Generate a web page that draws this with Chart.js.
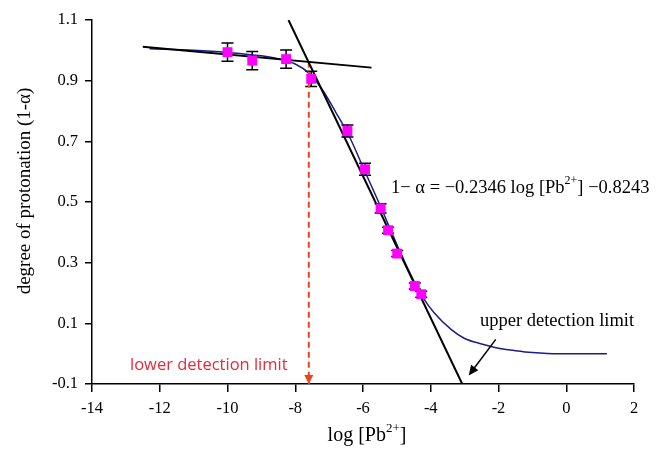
<!DOCTYPE html>
<html>
<head>
<meta charset="utf-8">
<script src="https://cdn.jsdelivr.net/npm/chart.js@4.4.0/dist/chart.umd.min.js"></script>
<style>
  html, body { margin: 0; padding: 0; background: #ffffff; }
  #wrap { width: 657px; height: 452px; position: relative; }
</style>
</head>
<body>
<div id="wrap"><canvas id="protonChart" width="657" height="452"></canvas></div>
<script>
// measured points (log [Pb2+], 1-alpha) with error bars
const logPb = [-10, -9.27, -8.27, -7.53, -6.46, -5.94, -5.48, -5.26, -4.99, -4.47, -4.28];
const protonation = [0.994, 0.966, 0.971, 0.906, 0.734, 0.608, 0.479, 0.407, 0.330, 0.223, 0.196];
const errors = [0.03, 0.03, 0.03, 0.025, 0.02, 0.02, 0.015, 0.01, 0.01, 0.01, 0.01];

// fitted response curve
const curveX = [-12.3, -11, -10, -9, -8.5, -8, -7.6, -7.2, -6.8, -6.4, -6, -5.5, -5, -4.5, -4.2, -3.9, -3.4, -3, -2.5, -2, -1.5, -1, -0.2, 0.5, 1.2];
const curveY = [1.005, 1.0, 0.993, 0.982, 0.972, 0.955, 0.925, 0.87, 0.795, 0.715, 0.615, 0.49, 0.36, 0.24, 0.18, 0.135, 0.08, 0.05, 0.032, 0.018, 0.01, 0.004, 0.0, 0.0, 0.0];

// tangent lines
const plateauX = [-12.5, -5.75];
const plateauY = [1.012, 0.943];
const slopeX = [-8.2, -3.07];
const slopeY = [1.1, -0.1];

// lower detection limit marker
const lowerLimitX = [-7.6, -7.6];
const lowerLimitY = [0.962, -0.1];

// upper detection limit arrow (tail, head)
const upperArrowX = [-2.08, -2.88];
const upperArrowY = [0.047, -0.072];

const xTicks = [-14, -12, -10, -8, -6, -4, -2, 0, 2];
const yTicks = [-0.1, 0.1, 0.3, 0.5, 0.7, 0.9, 1.1];

const serif = "'Liberation Serif', 'Times New Roman', serif";

function pts(xs, ys) {
  return xs.map((x, i) => ({ x: x, y: ys[i] }));
}

// draw text pieces with superscripts, returns width
function drawRich(ctx, parts, x, y, size, measureOnly) {
  let cx = x;
  parts.forEach(p => {
    const fs = p.sup ? size * 0.65 : size;
    ctx.font = fs + 'px ' + serif;
    if (!measureOnly) ctx.fillText(p.t, cx, p.sup ? y - size * 0.38 : y);
    cx += ctx.measureText(p.t).width;
  });
  return cx - x;
}

function arrowHead(ctx, x0, y0, x1, y1, len, half) {
  const a = Math.atan2(y1 - y0, x1 - x0);
  ctx.beginPath();
  ctx.moveTo(x1, y1);
  ctx.lineTo(x1 - len * Math.cos(a) + half * Math.sin(a), y1 - len * Math.sin(a) - half * Math.cos(a));
  ctx.lineTo(x1 - len * Math.cos(a) - half * Math.sin(a), y1 - len * Math.sin(a) + half * Math.cos(a));
  ctx.closePath();
  ctx.fill();
}

const extras = {
  id: 'extras',
  beforeDatasetsDraw(chart) {
    const ctx = chart.ctx;
    const xs = chart.scales.x, ys = chart.scales.y;
    ctx.save();
    ctx.strokeStyle = '#000000';
    ctx.lineWidth = 1.5;
    logPb.forEach((v, i) => {
      const px = xs.getPixelForValue(v);
      const top = ys.getPixelForValue(protonation[i] + errors[i]);
      const bot = ys.getPixelForValue(protonation[i] - errors[i]);
      ctx.beginPath();
      ctx.moveTo(px, top); ctx.lineTo(px, bot);
      ctx.moveTo(px - 6, top); ctx.lineTo(px + 6, top);
      ctx.moveTo(px - 6, bot); ctx.lineTo(px + 6, bot);
      ctx.stroke();
    });
    ctx.restore();
  },
  afterDatasetsDraw(chart) {
    const ctx = chart.ctx;
    const xs = chart.scales.x, ys = chart.scales.y;
    ctx.save();

    // red dashed arrow head
    const rx = xs.getPixelForValue(lowerLimitX[1]);
    const ry = ys.getPixelForValue(lowerLimitY[1]);
    ctx.fillStyle = '#f0401c';
    arrowHead(ctx, rx, ry - 20, rx, ry, 9, 4.5);

    // upper limit arrow
    const ax0 = xs.getPixelForValue(upperArrowX[0]), ay0 = ys.getPixelForValue(upperArrowY[0]);
    const ax1 = xs.getPixelForValue(upperArrowX[1]), ay1 = ys.getPixelForValue(upperArrowY[1]);
    ctx.strokeStyle = '#000000';
    ctx.lineWidth = 1.5;
    ctx.beginPath();
    ctx.moveTo(ax0, ay0);
    ctx.lineTo(ax1 + (ax0 - ax1) * 0.2, ay1 + (ay0 - ay1) * 0.2);
    ctx.stroke();
    ctx.fillStyle = '#000000';
    arrowHead(ctx, ax0, ay0, ax1, ay1, 10, 4.5);

    // labels
    ctx.fillStyle = '#000000';
    ctx.textBaseline = 'middle';
    ctx.textAlign = 'left';
    ctx.font = '18.5px ' + serif;
    ctx.fillText('upper detection limit', 480, 321);

    drawRich(ctx, [{ t: '1\u2212 \u03B1 = \u22120.2346 log [Pb' }, { t: '2+', sup: true }, { t: '] \u22120.8243' }], 391, 188, 18.5);

    ctx.fillStyle = '#e8283c';
    ctx.font = "16.5px 'Open Sans', 'Noto Sans', sans-serif";
    ctx.fillText('lower detection limit', 130, 365);

    // axis titles
    ctx.fillStyle = '#000000';
    const xTitle = [{ t: 'log [Pb' }, { t: '2+', sup: true }, { t: ']' }];
    const tw = drawRich(ctx, xTitle, 0, 0, 20, true);
    drawRich(ctx, xTitle, 367 - tw / 2, 436, 20);

    ctx.translate(25, 191);
    ctx.rotate(-Math.PI / 2);
    ctx.textAlign = 'center';
    ctx.font = '19px ' + serif;
    ctx.fillText('degree of protonation (1-\u03B1)', 0, 0);
    ctx.restore();
  }
};

const ctx = document.getElementById('protonChart').getContext('2d');
new Chart(ctx, {
  type: 'scatter',
  data: {
    datasets: [
      {
        label: 'measured',
        data: pts(logPb, protonation),
        pointStyle: 'rect',
        pointRadius: 7,
        backgroundColor: '#ff00ff',
        borderColor: '#ff00ff',
        borderWidth: 0,
        order: 0
      },
      {
        label: 'fit',
        data: pts(curveX, curveY),
        showLine: true,
        pointRadius: 0,
        borderColor: '#1c1c8a',
        borderWidth: 1.5,
        cubicInterpolationMode: 'monotone',
        order: 2
      },
      {
        label: 'plateau',
        data: pts(plateauX, plateauY),
        showLine: true,
        pointRadius: 0,
        borderColor: '#000000',
        borderWidth: 2,
        order: 1
      },
      {
        label: 'slope',
        data: pts(slopeX, slopeY),
        showLine: true,
        pointRadius: 0,
        borderColor: '#000000',
        borderWidth: 2,
        order: 1
      },
      {
        label: 'lower limit',
        data: pts(lowerLimitX, lowerLimitY),
        showLine: true,
        pointRadius: 0,
        borderColor: '#f0401c',
        borderWidth: 2,
        borderDash: [6, 4],
        order: 1
      }
    ]
  },
  options: {
    responsive: false,
    animation: false,
    devicePixelRatio: 1,
    layout: { padding: { top: 20, right: 23, left: 0, bottom: 0 } },
    plugins: { legend: { display: false }, tooltip: { enabled: false } },
    scales: {
      x: {
        type: 'linear',
        min: -14,
        max: 2,
        afterFit: function (scale) { scale.height = 68; },
        afterBuildTicks: function (scale) { scale.ticks = xTicks.map(v => ({ value: v })); },
        ticks: {
          color: '#000000',
          padding: 7,
          maxRotation: 0,
          minRotation: 0,
          autoSkip: false,
          font: { size: 16.5, family: serif },
          callback: function (v) { return String(v); }
        },
        grid: { display: true, drawOnChartArea: false, drawTicks: true, tickLength: 8, color: '#000000', lineWidth: 1.5 },
        border: { display: true, color: '#000000', width: 1.5 }
      },
      y: {
        type: 'linear',
        min: -0.1,
        max: 1.1,
        afterFit: function (scale) { scale.width = 92; },
        afterBuildTicks: function (scale) { scale.ticks = yTicks.map(v => ({ value: v })); },
        ticks: {
          color: '#000000',
          padding: 7,
          autoSkip: false,
          font: { size: 16.5, family: serif },
          callback: function (v) { return v.toFixed(1); }
        },
        grid: { display: true, drawOnChartArea: false, drawTicks: true, tickLength: 7, color: '#000000', lineWidth: 1.5 },
        border: { display: true, color: '#000000', width: 1.5 }
      }
    }
  },
  plugins: [extras]
});
</script>
</body>
</html>
